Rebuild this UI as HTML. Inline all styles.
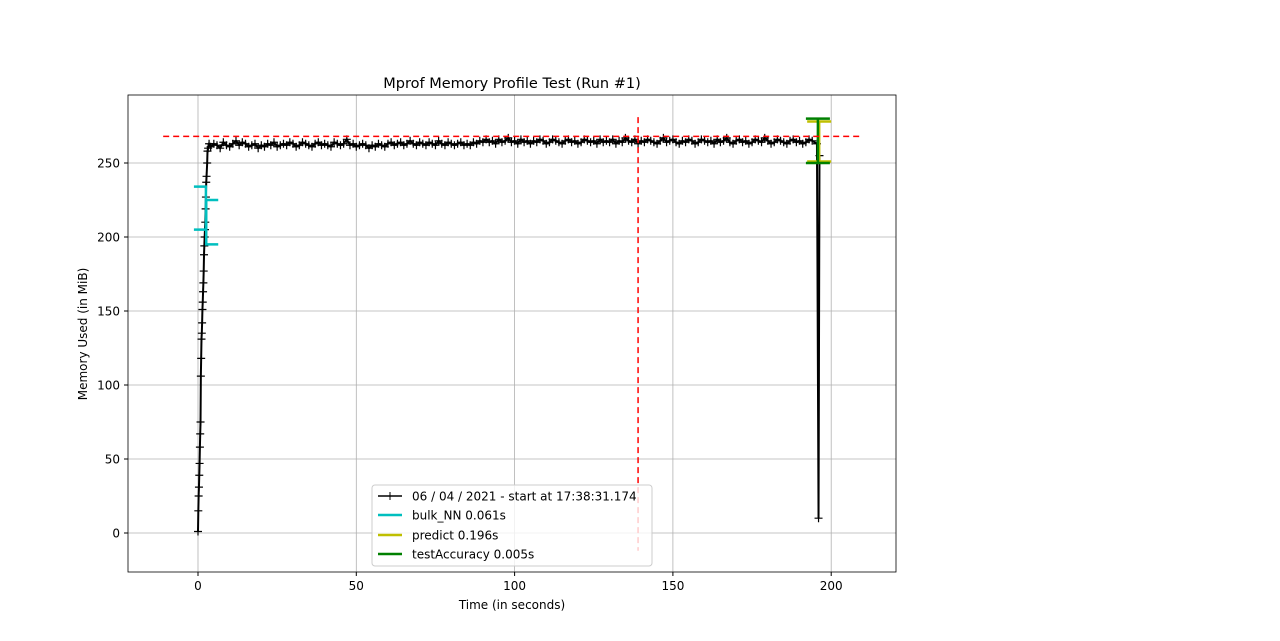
<!DOCTYPE html>
<html><head><meta charset="utf-8"><style>
body{margin:0;background:#fff;width:1280px;height:636px;overflow:hidden;font-family:"Liberation Sans","DejaVu Sans",sans-serif}
svg text{font-family:"DejaVu Sans","Liberation Sans",sans-serif;font-size:12px;fill:#000}
</style></head><body>
<svg id="chart" width="1280" height="636">
<text x="512" y="88" text-anchor="middle" style="font-size:14.5px">Mprof Memory Profile Test (Run #1)</text>
<g id="grid"></g><g id="marks"></g><g id="axes"></g>
<text x="512" y="609" text-anchor="middle">Time (in seconds)</text>
<text transform="translate(87,334) rotate(-90)" text-anchor="middle">Memory Used (in MiB)</text>
<g>
<rect x="372" y="485" width="280" height="81" fill="#fff" fill-opacity="0.8" stroke="#ccc" rx="3"/>
<g><line x1="378" y1="496" x2="402" y2="496" stroke="#000" stroke-width="1.5"/><path d="M386 496h8M390 492v8" stroke="#000"/><text x="412" y="500.5">06 / 04 / 2021 - start at 17:38:31.174</text></g>
<g><line x1="378" y1="515" x2="402" y2="515" stroke="#00bfbf" stroke-width="2.5"/><text x="412" y="519.5">bulk_NN 0.061s</text></g>
<g><line x1="378" y1="535" x2="402" y2="535" stroke="#bfbf00" stroke-width="2.5"/><text x="412" y="539.5">predict 0.196s</text></g>
<g><line x1="378" y1="554" x2="402" y2="554" stroke="#008000" stroke-width="2.5"/><text x="412" y="558.5">testAccuracy 0.005s</text></g>
</g>
</svg>
<script>
const rampTimes=[0,0.1,0.2,0.3,0.4,0.5,0.6,0.7,0.8,0.9,1.0,1.1,1.2,1.3,1.4,1.5,1.6,1.7,1.8,1.9,2.0,2.1,2.2,2.3,2.4,2.5,2.6,2.7,2.9,3.0,3.2,3.5];
const rampMemory=[1,15,25,31,39,47,58,67,75,106,118,131,135,142,151,156,163,169,177,188,194,200,205,210,219,227,237,241,250,258,260,263];
const plateauMemory=[261,263,262,260,264,262,261,263,265,262,264,263,261,262,263,260,262,261,263,262,264,261,262,263,262,264,263,261,262,264,263,262,261,263,264,262,263,262,261,264,263,262,263,266,262,263,261,262,263,262,260,262,261,263,262,261,263,264,262,263,264,262,263,265,263,262,264,263,262,264,263,262,265,263,262,264,263,262,263,264,262,263,262,264,263,265,264,266,264,265,263,266,264,265,267,264,265,263,266,264,265,263,265,264,266,265,263,264,266,265,264,263,265,266,264,265,263,264,266,265,264,265,263,266,264,265,264,266,263,265,264,267,265,264,266,263,265,264,266,265,264,263,265,267,264,265,266,264,263,265,264,266,265,263,264,266,265,264,265,263,266,264,265,267,264,263,265,266,264,265,263,264,266,265,264,267,265,263,264,266,265,264,263,265,266,264,265,263,264,266,265];
const endTimes=[195.5,196,196.3];
const endMemory=[263,10,255];
const ticksX=[0,50,100,150,200];
const ticksY=[0,50,100,150,200,250];
const funcNames=["bulk_NN","bulk_NN","predict","testAccuracy"];
const funcStart=[2.5,2.6,196.2,195.8];
const funcLow=[205,195,251,250];
const funcHigh=[234,225,278,280];
const funcColors=["#00bfbf","#00bfbf","#bfbf00","#008000"];
const maxMem=268, peakTime=139;
const times=rampTimes.concat(plateauMemory.map((m,i)=>4+i),endTimes);
const memory=rampMemory.concat(plateauMemory,endMemory);
const X=t=>198+t*3.166, Y=m=>533-m*1.48;
const NS="http://www.w3.org/2000/svg";
function mk(p,tag,a){const e=document.createElementNS(NS,tag);for(const k in a)e.setAttribute(k,a[k]);p.appendChild(e);return e;}
const grid=document.getElementById('grid'),marks=document.getElementById('marks'),axes=document.getElementById('axes');
ticksX.forEach(t=>{const l=mk(grid,'line',{x1:X(t),x2:X(t),y1:95,y2:572,stroke:'#b0b0b0','stroke-width':0.8});


mk(axes,'line',{x1:X(t),x2:X(t),y1:572,y2:576,stroke:'#000'});
const tx=mk(axes,'text',{x:X(t),y:590,'text-anchor':'middle'});tx.textContent=t;

});
ticksY.forEach(v=>{const l=mk(grid,'line',{x1:128,x2:896,y1:Y(v),y2:Y(v),stroke:'#b0b0b0','stroke-width':0.8});


mk(axes,'line',{x1:124,x2:128,y1:Y(v),y2:Y(v),stroke:'#000'});
const tx=mk(axes,'text',{x:120,y:Y(v)+4.5,'text-anchor':'end'});tx.textContent=v;

});
const fr=mk(axes,'rect',{x:128,y:95,width:768,height:477,fill:'none',stroke:'#000','stroke-width':0.8});


const line=mk(marks,'polyline',{points:times.map((t,i)=>X(t)+','+Y(memory[i])).join(' '),fill:'none',stroke:'#000','stroke-width':2});


times.forEach((t,i)=>{const x=X(t),y=Y(memory[i]);const p=mk(marks,'path',{d:`M${x-4} ${y}h8M${x} ${y-4}v8`,stroke:'#000','stroke-width':1.2});

});
funcNames.forEach((n,i)=>{const x=X(funcStart[i]),y1=Y(funcHigh[i]),y2=Y(funcLow[i]);const g=mk(marks,'g',{stroke:funcColors[i],'stroke-width':2.5,fill:'none'});


if(i===0) mk(g,'path',{d:`M${x-12} ${y1}H${x}V${y2}H${x-12}`});
else if(i===1) mk(g,'path',{d:`M${x+12} ${y1}H${x}V${y2}H${x+12}`});
else mk(g,'path',{d:`M${x-12} ${y1}H${x+12}M${x} ${y1}V${y2}M${x-12} ${y2}H${x+12}`});});
const h=mk(marks,'line',{x1:X(-11),x2:X(210),y1:Y(maxMem),y2:Y(maxMem),stroke:'#f00','stroke-width':1.5,'stroke-dasharray':'6,4'});


const v=mk(marks,'line',{x1:X(peakTime),x2:X(peakTime),y1:Y(281),y2:Y(-12),stroke:'#f00','stroke-width':1.5,'stroke-dasharray':'6,4'});


</script>
</body></html>
